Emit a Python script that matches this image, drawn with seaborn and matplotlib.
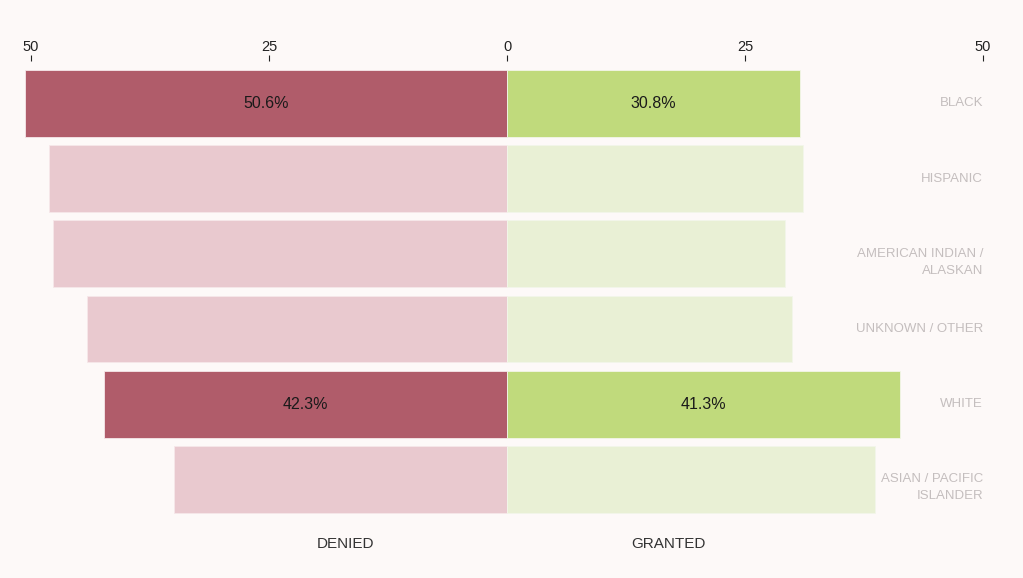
import matplotlib
matplotlib.use("Agg")
import matplotlib.pyplot as plt
import seaborn as sns
import pandas as pd

categories = ["BLACK", "HISPANIC", "AMERICAN INDIAN /\nALASKAN", "UNKNOWN / OTHER",
              "WHITE", "ASIAN / PACIFIC\nISLANDER"]
denied = [50.6, 48.1, 47.7, 44.1, 42.3, 35.0]
granted = [30.8, 31.1, 29.2, 29.9, 41.3, 38.7]
highlight = [True, False, False, False, True, False]
tick_vals = [-50, -25, 0, 25, 50]
tick_labels = ["50", "25", "0", "25", "50"]

BG = "#fdf9f8"
DEN_DARK, DEN_LIGHT = "#b05c6a", "#e9c9cf"
GR_DARK, GR_LIGHT = "#c0da7c", "#e9f0d5"

sns.set_theme(style="white")
plt.rcParams["font.family"] = ["Liberation Sans", "DejaVu Sans"]

df = pd.DataFrame({"cat": categories, "denied": [-d for d in denied], "granted": granted})

fig = plt.figure(figsize=(10.23, 5.78), dpi=100, facecolor=BG)
W, H = 1023, 578
ax = fig.add_axes([0, 1 - 517 / H, 1, (517 - 61) / H])
ax.set_facecolor(BG)

den_pal = {c: (DEN_DARK if h else DEN_LIGHT) for c, h in zip(categories, highlight)}
gr_pal = {c: (GR_DARK if h else GR_LIGHT) for c, h in zip(categories, highlight)}

sns.barplot(data=df, y="cat", x="denied", hue="cat", palette=den_pal, order=categories,
            orient="h", width=0.89, legend=False, ax=ax, saturation=1,
            edgecolor="#f6e8ea", linewidth=0.6)
sns.barplot(data=df, y="cat", x="granted", hue="cat", palette=gr_pal, order=categories,
            orient="h", width=0.89, legend=False, ax=ax, saturation=1,
            edgecolor="#f3f6ea", linewidth=0.6)

ppu = 952 / 100.0
ax.set_xlim(-507 / ppu, (W - 507) / ppu)
ax.set_ylim(5.5, -0.565)
for s in ax.spines.values():
    s.set_visible(False)

ax.xaxis.tick_top()
ax.set_xticks(tick_vals)
ax.set_xticklabels(tick_labels, fontsize=10.5, color="#222222")
ax.tick_params(axis="x", which="major", top=True, bottom=False, length=4, width=0.8,
               color="#222222", pad=1, direction="out")
ax.set_yticks([])
ax.set_xlabel("")
ax.set_ylabel("")

for i, (c, d, g, h) in enumerate(zip(categories, denied, granted, highlight)):
    for k, line in enumerate(c.split("\n")):
        ax.annotate(line, xy=(50, i), xytext=(0, -12.2 * k), textcoords="offset points",
                    ha="right", va="center", fontsize=9.5, color="#c4bebe")
    if h:
        ax.text(-d / 2, i, f"{d:.1f}%", ha="center", va="center", fontsize=11.5, color="#1a1a1a")
        ax.text(g / 2, i, f"{g:.1f}%", ha="center", va="center", fontsize=11.5, color="#1a1a1a")

trans = ax.get_xaxis_transform()
ax.text(-17, -0.06, "DENIED", transform=trans, ha="center", va="center",
        fontsize=11, color="#333333")
ax.text(17, -0.06, "GRANTED", transform=trans, ha="center", va="center",
        fontsize=11, color="#333333")

fig.savefig("out.png", dpi=100, facecolor=BG)
